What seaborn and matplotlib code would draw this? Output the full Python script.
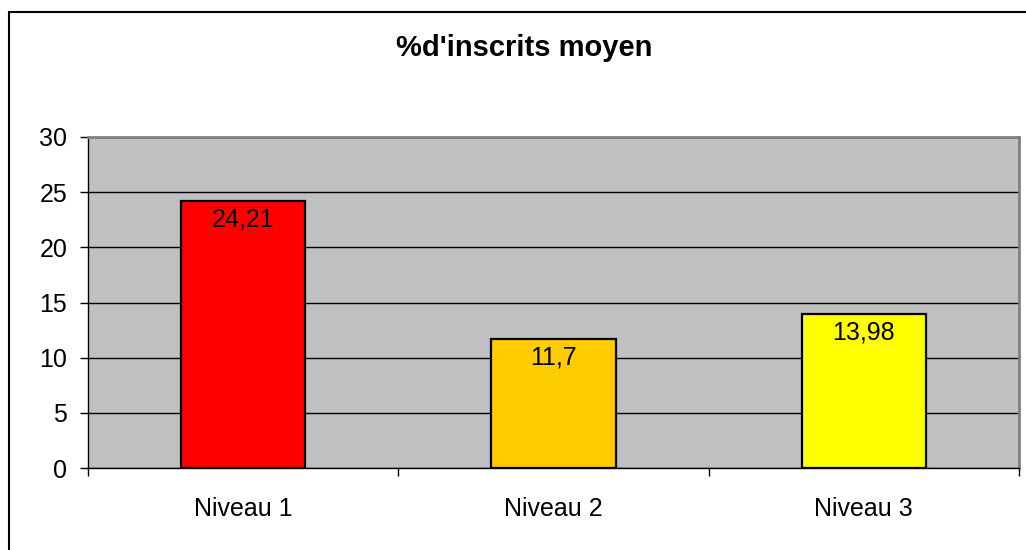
import numpy as np
import pandas as pd
import seaborn as sns
import matplotlib.pyplot as plt
from matplotlib.lines import Line2D

# data
niveaux = ["Niveau 1", "Niveau 2", "Niveau 3"]
inscrits = [24.21, 11.7, 13.98]
couleurs = ["#FF0000", "#FFCC00", "#FFFF00"]
y_ticks = [0, 5, 10, 15, 20, 25, 30]


def make_chart():
    df = pd.DataFrame({"niveau": niveaux, "pct": inscrits})

    sns.set_theme(style="white")
    plt.rcParams["font.family"] = ["Liberation Sans", "DejaVu Sans"]
    plt.rcParams["text.color"] = "black"
    plt.rcParams["xtick.color"] = "black"
    plt.rcParams["ytick.color"] = "black"

    fig = plt.figure(figsize=(10.26, 5.5), dpi=100)
    ax = fig.add_axes([88 / 1026, 1 - 468 / 550, (1019 - 88) / 1026, (468 - 137) / 550])

    sns.barplot(data=df, x="niveau", y="pct", hue="niveau", palette=couleurs,
                width=0.4, edgecolor="black", linewidth=1.6, legend=False,
                saturation=1, ax=ax)

    ax.set_facecolor("#C0C0C0")
    ax.set_ylim(0, 30)
    ax.set_xlim(-0.5, 2.5)
    ax.set_yticks(y_ticks)
    ax.set_yticklabels([str(t) for t in y_ticks], fontsize=18, color="black")
    ax.set_axisbelow(True)
    ax.yaxis.grid(True, color="black", linewidth=1.0)
    ax.xaxis.grid(False)

    # category labels in the middle, small ticks at the boundaries
    ax.set_xticks(range(len(niveaux)))
    ax.set_xticklabels(niveaux, fontsize=18, color="black")
    ax.set_xticks([-0.5, 0.5, 1.5, 2.5], minor=True)
    ax.tick_params(axis="x", which="major", bottom=True, length=0, pad=21)
    ax.tick_params(axis="x", which="minor", bottom=True, length=6, width=1,
                   color="black", direction="out")
    ax.tick_params(axis="y", length=6, width=1, color="black", direction="out", left=True, pad=9)
    ax.set_xlabel("")
    ax.set_ylabel("")

    for side in ["left", "bottom"]:
        ax.spines[side].set_color("black")
        ax.spines[side].set_linewidth(1.0)
    for side in ["top", "right"]:
        ax.spines[side].set_color("#808080")
        ax.spines[side].set_linewidth(2.0)

    # value labels just inside the top of each bar
    for i, v in enumerate(inscrits):
        ax.annotate(str(v).replace(".", ","), xy=(i, v), xytext=(0, -5),
                    textcoords="offset points", ha="center", va="top",
                    fontsize=18, color="black")

    fig.text(524 / 1026, 1 - 48 / 550, "%d'inscrits moyen", ha="center", va="center",
             fontsize=21, fontweight="bold", color="black")

    # outer chart frame (left and top edges visible)
    fig.add_artist(Line2D([9 / 1026, 9 / 1026], [0, 1 - 12 / 550], color="black",
                          linewidth=1.5, transform=fig.transFigure))
    fig.add_artist(Line2D([9 / 1026, 1], [1 - 12 / 550, 1 - 12 / 550], color="black",
                          linewidth=1.5, transform=fig.transFigure))

    fig.savefig("out.png", dpi=100, facecolor="white")
    plt.close(fig)


if __name__ == "__main__":
    make_chart()
